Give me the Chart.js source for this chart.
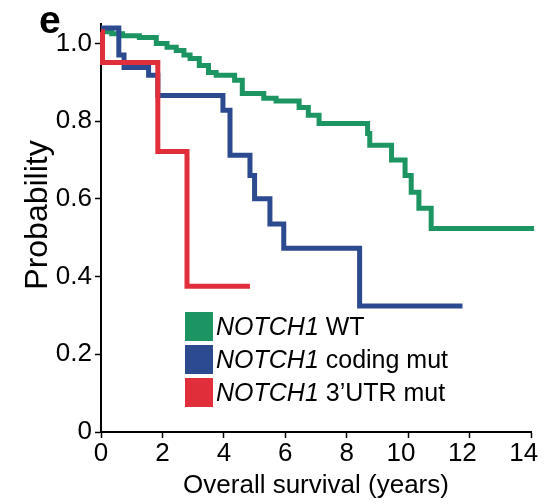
<!DOCTYPE html>
<html>
<head>
<meta charset="utf-8">
<script src="https://cdn.jsdelivr.net/npm/chart.js@4.4.0/dist/chart.umd.min.js"></script>
<style>
html, body { margin: 0; padding: 0; background: #fff; }
#wrap { position: relative; width: 548px; height: 504px; }
#panel { position: absolute; left: 39px; top: -2px; font: bold 39px "Liberation Sans", Arial, sans-serif; color: #000; }
#ytitle { position: absolute; left: 36px; top: 215px; transform: translate(-50%, -50%) rotate(-90deg); font: 32px "Liberation Sans", Arial, sans-serif; color: #000; white-space: nowrap; }
#legend { position: absolute; left: 185px; top: 310px; font: 25px "Liberation Sans", Arial, sans-serif; color: #000; }
.row { height: 33px; display: flex; align-items: center; white-space: nowrap; }
.sw { width: 28px; height: 29px; margin-right: 3px; flex: none; }
</style>
</head>
<body>
<div id="wrap">
  <canvas id="myChart" width="548" height="504"></canvas>
  <div id="panel">e</div>
  <div id="ytitle">Probability</div>
  <div id="legend"></div>
</div>
<script>
// tick labels
var xTicks = [0, 2, 4, 6, 8, 10, 12, 14];
var yTicks = [0, 0.2, 0.4, 0.6, 0.8, 1.0];

// legend names
var gene = 'NOTCH1';
var groups = ['WT', 'coding mut', '3\u2019UTR mut'];
var colors = ['#1d9563', '#2c4a8f', '#e02f3a'];

// NOTCH1 WT (green)
var wtTime = [0, 0.35, 0.7, 1.25, 1.8, 2.15, 2.45, 2.7, 2.9, 3.2, 3.5, 3.75, 4.35, 4.6, 5.3, 5.7, 6.45, 6.75, 7.1, 8.68, 8.75, 9.46, 9.9, 10.1, 10.35, 10.75, 14.1];
var wtProb = [1.03, 1.025, 1.02, 1.015, 1.0, 0.99, 0.982, 0.97, 0.961, 0.943, 0.925, 0.918, 0.905, 0.871, 0.859, 0.852, 0.835, 0.815, 0.794, 0.768, 0.738, 0.70, 0.66, 0.617, 0.576, 0.524, 0.524];

// NOTCH1 coding mut (blue)
var cmTime = [0, 0.58, 0.75, 1.55, 1.85, 3.97, 4.2, 4.85, 5.0, 5.5, 5.95, 8.42, 11.77];
var cmProb = [1.04, 0.97, 0.938, 0.918, 0.866, 0.828, 0.712, 0.66, 0.60, 0.535, 0.473, 0.324, 0.324];

// NOTCH1 3'UTR mut (red)
var urTime = [0, 0.05, 1.85, 2.8, 4.85];
var urProb = [1.03, 0.951, 0.722, 0.375, 0.375];

function pts(t, p) {
    var out = [];
    for (var i = 0; i < t.length; i++) out.push({ x: t[i], y: p[i] });
    return out;
}

function makeSet(label, t, p, color, order) {
    return {
        label: label,
        data: pts(t, p),
        borderColor: color,
        backgroundColor: color,
        borderWidth: 5,
        stepped: true,
        pointRadius: 0,
        fill: false,
        clip: false,
        borderCapStyle: 'butt',
        borderJoinStyle: 'miter',
        order: order
    };
}

// legend (html, so NOTCH1 can be italic)
var leg = document.getElementById('legend');
for (var i = 0; i < groups.length; i++) {
    var row = document.createElement('div');
    row.className = 'row';
    var sw = document.createElement('div');
    sw.className = 'sw';
    sw.style.background = colors[i];
    var txt = document.createElement('span');
    txt.innerHTML = '<i>' + gene + '</i> ' + groups[i];
    row.append(sw);
    row.append(txt);
    leg.append(row);
}

var fam = '"Liberation Sans", Arial, sans-serif';
var ctx = document.getElementById('myChart').getContext('2d');
var myChart = new Chart(ctx, {
    type: 'line',
    data: {
        datasets: [
            makeSet(gene + ' ' + groups[2], urTime, urProb, colors[2], 0),
            makeSet(gene + ' ' + groups[1], cmTime, cmProb, colors[1], 1),
            makeSet(gene + ' ' + groups[0], wtTime, wtProb, colors[0], 2)
        ]
    },
    options: {
        responsive: false,
        animation: false,
        layout: { padding: { top: 24, right: 17, left: 0, bottom: 0 } },
        plugins: { legend: { display: false }, tooltip: { enabled: false } },
        scales: {
            x: {
                type: 'linear',
                min: 0,
                max: 14,
                afterBuildTicks: function (axis) { axis.ticks = xTicks.map(function (v) { return { value: v }; }); },
                afterFit: function (axis) {
                    axis.height = 72;
                    axis.paddingLeft = 0;
                    axis.paddingRight = 0;
                },
                grid: { drawOnChartArea: false, tickLength: 6, tickWidth: 1.5, tickColor: '#000' },
                border: { color: '#000', width: 2 },
                ticks: {
                    color: '#000', font: { size: 26, family: fam }, padding: 0, maxRotation: 0, autoSkip: false,
                    // two-digit labels sit a bit left of their tick in the original
                    callback: function (v) { return v >= 10 ? v + '\u2007' : '' + v; }
                },
                title: { display: true, text: 'Overall survival (years)', color: '#000', font: { size: 26, family: fam }, padding: { top: 0, bottom: 3 } }
            },
            y: {
                type: 'linear',
                min: 0,
                max: 1.05,
                afterBuildTicks: function (axis) { axis.ticks = yTicks.map(function (v) { return { value: v }; }); },
                afterFit: function (axis) {
                    axis.width = 101;
                    axis.paddingTop = 0;
                    axis.paddingBottom = 0;
                },
                grid: { drawOnChartArea: false, tickLength: 6, tickWidth: 1.5, tickColor: '#000' },
                border: { color: '#000', width: 2 },
                ticks: {
                    color: '#000', font: { size: 26, family: fam }, padding: 3,
                    callback: function (v) { return v === 0 ? '0' : v.toFixed(1); }
                },
                title: { display: false }
            }
        }
    }
});
</script>
</body>
</html>
